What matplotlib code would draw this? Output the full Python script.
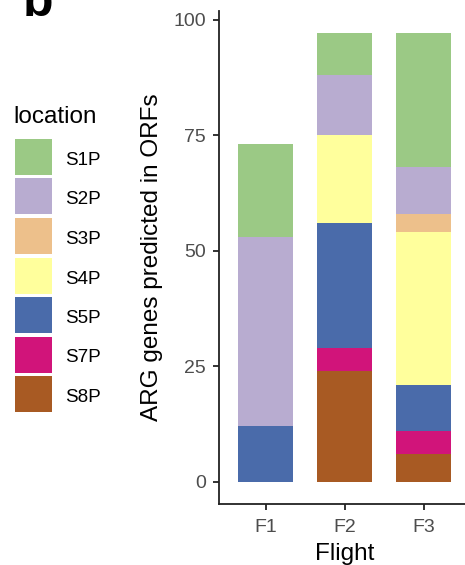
import matplotlib
matplotlib.use("Agg")
import numpy as np
import matplotlib.pyplot as plt
from matplotlib.patches import Rectangle

# -------------------------
# DATA
# -------------------------
flights = ["F1", "F2", "F3"]
locations = ["S1P", "S2P", "S3P", "S4P", "S5P", "S7P", "S8P"]
S1P = [20, 9, 29]
S2P = [41, 13, 10]
S3P = [0, 0, 4]
S4P = [0, 19, 33]
S5P = [12, 27, 10]
S7P = [0, 5, 5]
S8P = [0, 24, 6]
counts = {"S1P": S1P, "S2P": S2P, "S3P": S3P, "S4P": S4P,
          "S5P": S5P, "S7P": S7P, "S8P": S8P}
colors = {"S1P": "#9BC985", "S2P": "#B8ACD0", "S3P": "#EDC08B",
          "S4P": "#FFFF9C", "S5P": "#4A6BAA", "S7P": "#D1147A",
          "S8P": "#A85A23"}

plt.rcParams["font.family"] = ["Liberation Sans", "DejaVu Sans"]

W, H = 465, 565
fig = plt.figure(figsize=(W / 100, H / 100), dpi=100)

def fx(x):
    return x / W

def fy(y):
    return 1 - y / H

# axes placed in pixel terms (panel runs a bit past the right edge)
left, right, top, bottom = 218.5, 471, 11, 504
ax = fig.add_axes([fx(left), fy(bottom), (right - left) / W, (bottom - top) / H])

x = np.arange(1, len(flights) + 1)
base = np.zeros(len(flights))
# stack from bottom (S8P) to top (S1P)
for loc in locations[::-1]:
    vals = np.array(counts[loc], dtype=float)
    ax.bar(x, vals, width=0.7, bottom=base, color=colors[loc], linewidth=0)
    base += vals

ax.set_xlim(0.4, 3.6)
ax.set_ylim(-4.85, 101.85)
ax.set_xticks(x)
ax.set_xticklabels(flights)
ax.set_yticks([0, 25, 50, 75, 100])

for s in ["top", "right"]:
    ax.spines[s].set_visible(False)
for s in ["left", "bottom"]:
    ax.spines[s].set_linewidth(1.3)
    ax.spines[s].set_color("#222222")
ax.tick_params(axis="both", length=4, width=1.3, color="#222222",
               labelsize=14, labelcolor="#4D4D4D")
ax.tick_params(axis="y", pad=5)
ax.tick_params(axis="x", pad=7)

ax.set_xlabel("Flight", fontsize=17.5, labelpad=5)
ax.set_ylabel("ARG genes predicted in ORFs", fontsize=17.5)
ax.yaxis.set_label_coords((163 - left) / (right - left), 0.5)

# -------------------------
# LEGEND (drawn by hand)
# -------------------------
fig.text(fx(13), fy(123), "location", fontsize=17.5, va="baseline", ha="left")
for i, loc in enumerate(locations):
    ktop = 139 + i * 39.5
    fig.add_artist(Rectangle((fx(15), fy(ktop + 36)), 37 / W, 36 / H,
                             transform=fig.transFigure, facecolor=colors[loc],
                             edgecolor="none"))
    fig.text(fx(65), fy(ktop + 26), loc, fontsize=13.6, va="baseline", ha="left")

# panel label
fig.text(fx(23), fy(16), "b", fontsize=36, fontweight="bold", va="baseline", ha="left")

fig.savefig("out.png", dpi=100)
